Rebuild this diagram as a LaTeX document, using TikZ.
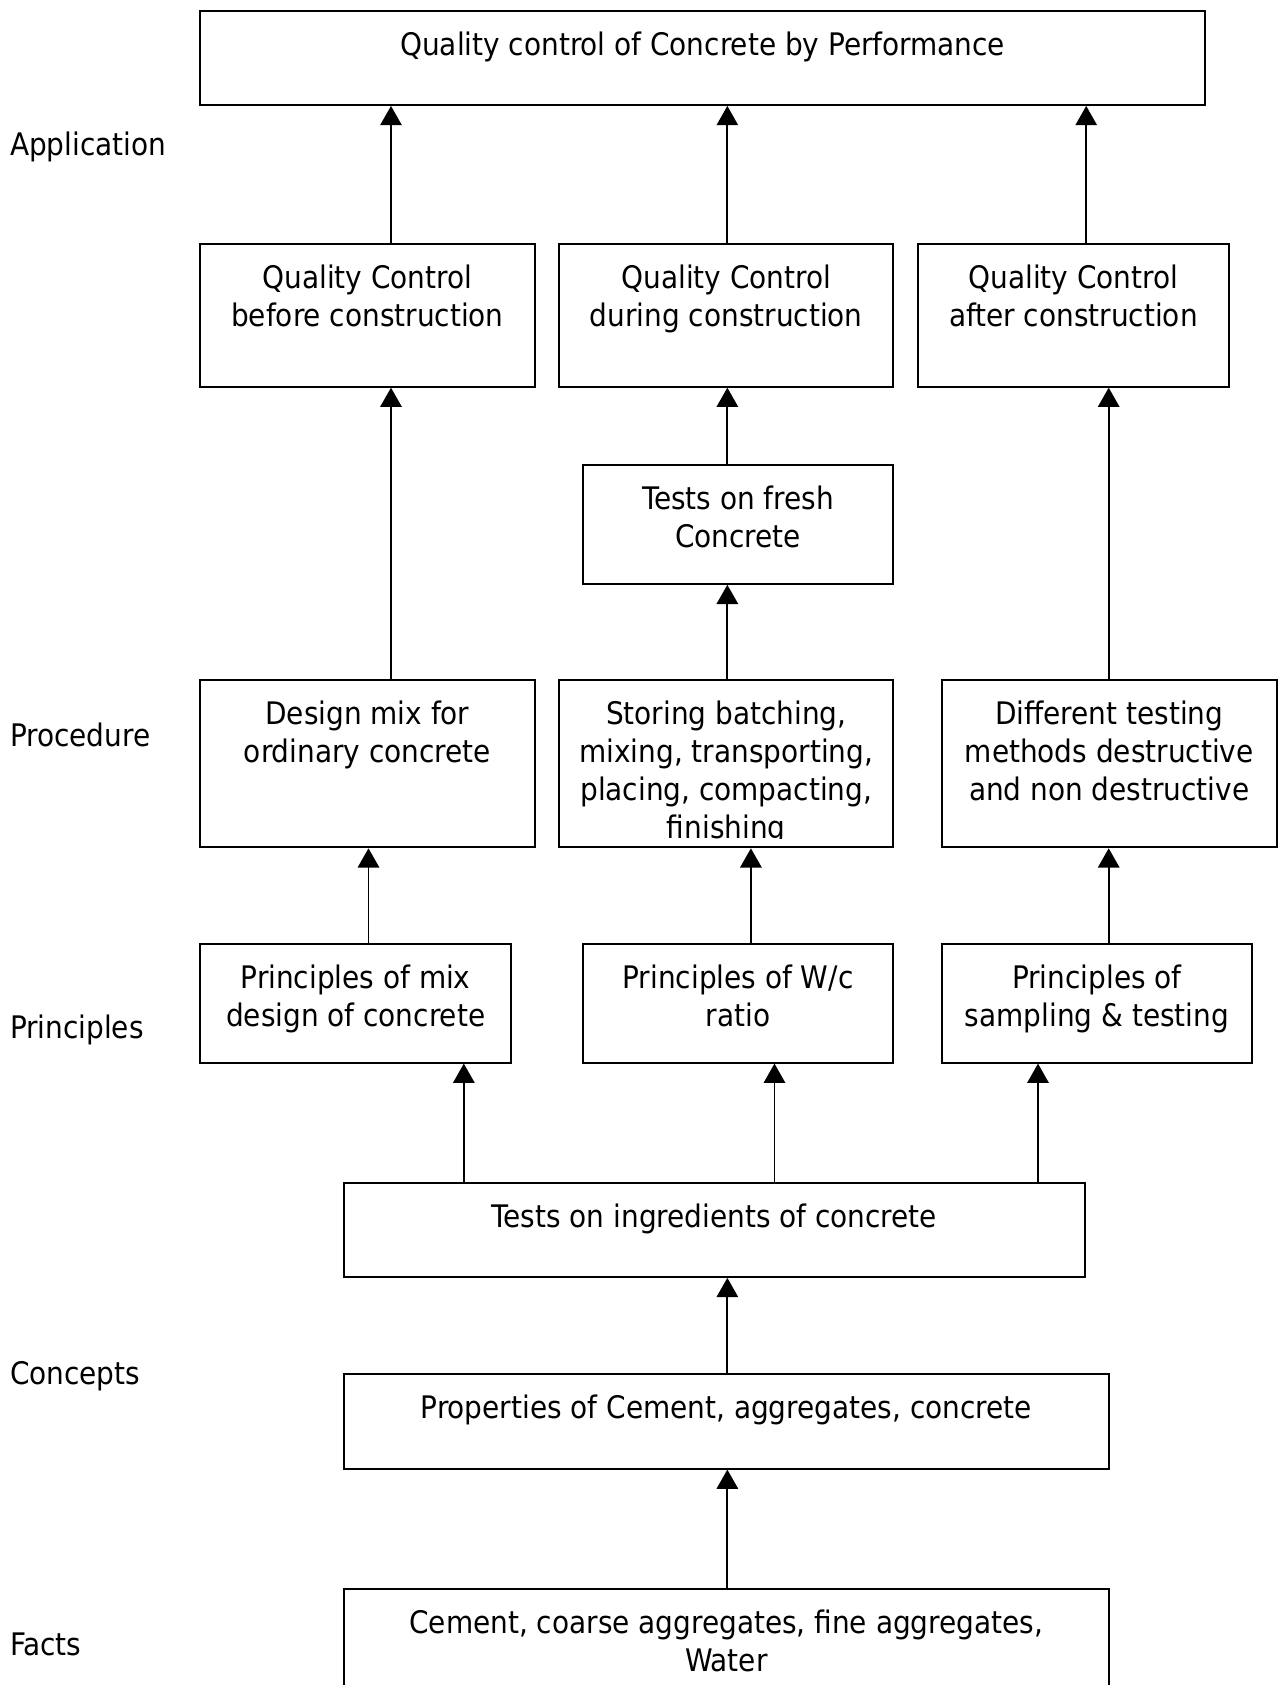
\documentclass[tikz,border=0pt]{standalone}
\usepackage{fontspec}
\setmainfont{DejaVu Sans Condensed}
\usetikzlibrary{positioning, fit, arrows.meta}

\tikzset{
  box/.style={draw, line width=0.9pt, inner sep=0pt, fit={#1}},
  txt/.style={inner sep=0pt, align=center, font=\fontsize{14.5pt}{17.75pt}\selectfont},
  lvl/.style={anchor=west, inner sep=0pt, font=\fontsize{14.5pt}{17.75pt}\selectfont},
  up/.style={-{Triangle[width=10pt,length=9pt]}, line width=0.8pt},
}

\begin{document}
\begin{tikzpicture}[x=0.5pt, y=-0.5pt]

    \useasboundingbox (0,0) rectangle (1200,1573);

    % levels on the left
    \node (app) [lvl] at (9,137) {Application};
    \node (proc) [lvl] at (9,686) {Procedure};
    \node (prin) [lvl] at (9,961) {Principles};
    \node (conc) [lvl] at (9,1285) {Concepts};
    \node (fact) [lvl] at (9,1535) {Facts};

    % boxes
    \node (perf) [box={(187,10) (1125,98)}] {};
    \node (perf-t) [txt, below=10pt of perf.north] {Quality control of Concrete by Performance};

    \node (qcb) [box={(187,228) (499,361)}] {};
    \node (qcb-t) [txt, below=10pt of qcb.north] {Quality Control\\before construction};
    \node (qcd) [box={(522,228) (834,361)}] {};
    \node (qcd-t) [txt, below=10pt of qcd.north] {Quality Control\\during construction};
    \node (qca) [box={(857,228) (1147,361)}] {};
    \node (qca-t) [txt, below=10pt of qca.north] {Quality Control\\after construction};

    \node (fresh) [box={(544,434) (834,545)}] {};
    \node (fresh-t) [txt, below=10pt of fresh.north] {Tests on fresh\\Concrete};

    \node (dmix) [box={(187,635) (499,791)}] {};
    \node (dmix-t) [txt, below=10pt of dmix.north] {Design mix for\\ordinary concrete};
    \node (stor) [box={(522,635) (834,791)}] {};
    \begin{scope}
      \clip (stor.north west) rectangle ([yshift=4.5pt]stor.south east);
      \node (stor-t) [txt, below=10pt of stor.north] {Storing batching,\\mixing, transporting,\\placing, compacting,\\finishing};
    \end{scope}
    \node (dtest) [box={(879,635) (1192,791)}] {};
    \node (dtest-t) [txt, below=10pt of dtest.north] {Different testing\\methods destructive\\and non destructive};

    \node (pmix) [box={(187,881) (477,992)}] {};
    \node (pmix-t) [txt, below=10pt of pmix.north] {Principles of mix\\design of concrete};
    \node (pwc) [box={(544,881) (834,992)}] {};
    \node (pwc-t) [txt, below=10pt of pwc.north] {Principles of W/c\\ratio};
    \node (psam) [box={(879,881) (1169,992)}] {};
    \node (psam-t) [txt, below=10pt of psam.north] {Principles of\\sampling \& testing};

    \node (ingr) [box={(321,1104) (1013,1192)}] {};
    \node (ingr-t) [txt, below=10pt of ingr.north] {Tests on ingredients of concrete};

    \node (prop) [box={(321,1283) (1035,1371)}] {};
    \node (prop-t) [txt, below=10pt of prop.north] {Properties of Cement, aggregates, concrete};

    \node (raw) [box={(321,1483) (1035,1600)}] {};
    \node (raw-t) [txt, below=10pt of raw.north] {Cement, coarse aggregates, fine aggregates,\\Water};

    % connectors
    \draw[up] (qcb.north -| 365,0) -- (perf.south -| 365,0);
    \draw[up] (qcd.north -| 679,0) -- (perf.south -| 679,0);
    \draw[up] (qca.north -| 1014,0) -- (perf.south -| 1014,0);

    \draw[up] (dmix.north -| 365,0) -- (qcb.south -| 365,0);
    \draw[up] (fresh.north -| 679,0) -- (qcd.south -| 679,0);
    \draw[up] (dtest.north -| 1035,0) -- (qca.south -| 1035,0);

    \draw[up] (stor.north -| 679,0) -- (fresh.south -| 679,0);

    \draw[up] (pmix.north -| 344,0) -- (dmix.south -| 344,0);
    \draw[up] (pwc.north -| 701,0) -- (stor.south -| 701,0);
    \draw[up] (psam.north -| 1035,0) -- (dtest.south -| 1035,0);

    \draw[up] (ingr.north -| 433,0) -- (pmix.south -| 433,0);
    \draw[up] (ingr.north -| 723,0) -- (pwc.south -| 723,0);
    \draw[up] (ingr.north -| 969,0) -- (psam.south -| 969,0);

    \draw[up] (prop.north -| 679,0) -- (ingr.south -| 679,0);
    \draw[up] (raw.north -| 679,0) -- (prop.south -| 679,0);

\end{tikzpicture}
\end{document}
